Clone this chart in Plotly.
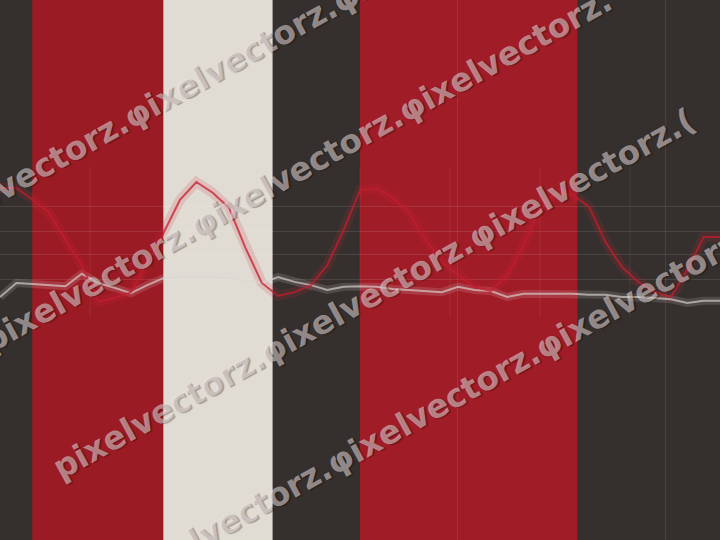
import plotly.graph_objects as go

# ---- data ----
x_index = list(range(45))
red_values = [65.2, 65.2, 63.0, 60.6, 55.6, 50.9, 44.1, 44.8, 45.9, 51.3,
              56.9, 63.0, 66.3, 64.3, 61.5, 54.1, 47.6, 45.2, 45.9, 47.2,
              50.9, 57.4, 64.8, 65.2, 63.3, 60.6, 55.6, 51.5, 49.1, 46.9,
              46.1, 49.1, 54.6, 61.7, 64.3, 63.9, 61.7, 55.2, 50.6, 47.8,
              45.9, 45.0, 50.0, 56.1, 56.1]
gray_values = [45.0, 47.6, 47.4, 47.2, 47.0, 49.3, 47.6, 46.7, 45.7, 47.2,
               48.5, 48.7, 48.7, 48.7, 48.5, 48.1, 47.6, 48.7, 47.8, 47.2,
               46.3, 46.9, 47.0, 46.9, 46.5, 46.3, 46.1, 45.9, 46.9, 46.3,
               46.1, 45.0, 45.6, 45.6, 45.6, 45.6, 45.4, 45.4, 45.0, 45.0,
               44.8, 44.6, 43.9, 44.3, 44.3]
band_edges = [0, 1.97, 9.98, 16.67, 22.0, 35.3, 44]
band_colors = ["#35302d", "#9b1b24", "#e0dcd3", "#35302d", "#a01c27", "#35302d"]
grid_y = [48.3, 52.8, 57.2, 61.7]
grid_x_full = [27.93, 40.64]
grid_x_short = [5.5, 11.0, 16.5, 22.0, 27.5, 33.0, 38.5]
short_grid_span = [41.3, 69.1]
watermark_rows = ["pixelvectorz.\u03c6ixelvectorz.\u03c6ixelvectorz.",
                  "pixelvectorz.\u03c6ixelvectorz.\u03c6ixelvectorz.",
                  "pixelvectorz.\u03c6ixelvectorz.\u03c6ixelvectorz.(",
                  "pixelvectorz.\u03c6ixelvectorz.\u03c6ixelvectorz."]

# ---- figure ----
fig = go.Figure()

# glow under-lines
fig.add_trace(go.Scatter(x=x_index, y=gray_values, mode="lines",
                         line=dict(color="rgba(225,220,215,0.16)", width=8),
                         hoverinfo="skip", showlegend=False))
fig.add_trace(go.Scatter(x=x_index, y=red_values, mode="lines",
                         line=dict(color="rgba(205,40,55,0.16)", width=10),
                         hoverinfo="skip", showlegend=False))
# main lines
fig.add_trace(go.Scatter(x=x_index, y=gray_values, mode="lines",
                         line=dict(color="rgba(220,215,210,0.65)", width=2),
                         showlegend=False))
fig.add_trace(go.Scatter(x=x_index, y=red_values, mode="lines",
                         line=dict(color="rgba(195,30,45,0.75)", width=2),
                         showlegend=False))

shapes = []
for i, col in enumerate(band_colors):
    shapes.append(dict(type="rect", xref="x", yref="paper",
                       x0=band_edges[i], x1=band_edges[i + 1], y0=0, y1=1,
                       fillcolor=col, line=dict(width=0), layer="below"))
for gx in grid_x_short:
    shapes.append(dict(type="line", xref="x", yref="y",
                       x0=gx, x1=gx, y0=short_grid_span[0], y1=short_grid_span[1],
                       line=dict(color="rgba(255,255,255,0.07)", width=1),
                       layer="between"))
fig.update_layout(shapes=shapes)

# watermark rows (centers in pixels, converted to paper fraction)
row_centers = [(231, 62), (297, 171), (374, 294), (434, 408)]
annotations = []
for text, (cx, cy) in zip(watermark_rows, row_centers):
    annotations.append(dict(
        text=text, xref="paper", yref="paper",
        x=cx / 720, y=1 - cy / 540, xanchor="center", yanchor="middle",
        showarrow=False, textangle=-29,
        font=dict(family="DejaVu Sans", size=32.5, weight="bold",
                  color="rgba(240,225,225,0.55)",
                  shadow="1.5px 1.5px 1px rgba(0,0,0,0.55)")))
fig.update_layout(annotations=annotations)

fig.update_layout(
    width=720, height=540,
    margin=dict(l=0, r=0, t=0, b=0),
    paper_bgcolor="#35302d", plot_bgcolor="#35302d",
    showlegend=False,
    xaxis=dict(range=[0, 44], tickvals=grid_x_full, showticklabels=False,
               showgrid=True, gridcolor="rgba(255,255,255,0.09)", gridwidth=1,
               zeroline=False, showline=False, fixedrange=True),
    yaxis=dict(range=[0, 100], tickvals=grid_y, showticklabels=False,
               showgrid=True, gridcolor="rgba(255,255,255,0.1)", gridwidth=1,
               zeroline=False, showline=False, fixedrange=True),
)

fig.write_html("out.html", config={"displayModeBar": False},
               post_script="document.body.style.margin='0px';")
